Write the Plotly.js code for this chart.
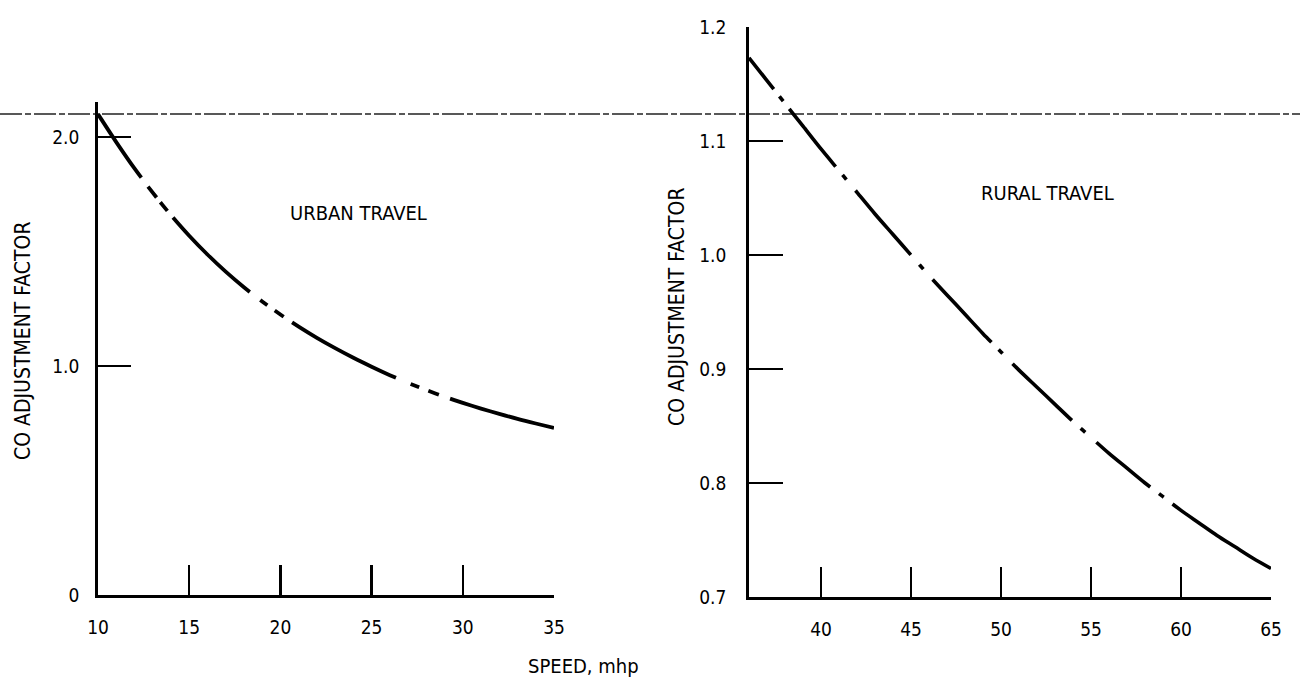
<!DOCTYPE html>
<html><head><meta charset="utf-8">
<script src="https://cdn.plot.ly/plotly-3.0.1.min.js"></script>
<style>html,body{margin:0;padding:0;background:#fff}#chart{width:1300px;height:683px}</style>
</head><body><div id="chart"></div>
<script>
// Urban travel: speed (mph) vs CO adjustment factor
const urbanSpeed  = [10,11,12,13,14,15,16,17,18,19,20,21,22,23,24,25,26,27,28,29,30,31,32,33,34,35];
const urbanFactor = [2.100,1.978,1.863,1.757,1.659,1.569,1.487,1.412,1.344,1.282,1.225,1.172,1.123,1.078,1.036,0.997,0.960,0.926,0.895,0.866,0.839,0.814,0.791,0.769,0.749,0.730];
// Rural travel
const ruralSpeed  = [36,37,38,39,40,41,42,43,44,45,46,47,48,49,50,51,52,53,54,55,56,57,58,59,60,61,62,63,64,65];
const ruralFactor = [1.173,1.153,1.133,1.113,1.093,1.074,1.055,1.036,1.018,1.000,0.982,0.965,0.948,0.931,0.915,0.899,0.884,0.869,0.854,0.840,0.826,0.813,0.800,0.788,0.776,0.765,0.754,0.744,0.734,0.725];
// Tick labels
const urbanXTicks = [10,15,20,25,30,35];
const urbanYTicks = [0,1.0,2.0];
const urbanYText  = ['0','1.0','2.0'];
const ruralXTicks = [40,45,50,55,60,65];
const ruralYTicks = [0.7,0.8,0.9,1.0,1.1,1.2];
const ruralYText  = ['0.7','0.8','0.9','1.0','1.1','1.2'];

const FONT = "'DejaVu Sans Condensed','Liberation Sans Narrow','Arial Narrow',sans-serif";
const W = 1300, H = 683;
const px = v => v / W, py = v => 1 - v / H;

// dash sequences (pixel lengths along the curve) reproducing the drawn long-dash / short-dash style
const urbanDash = '77px,11px,14px,6px,11px,9px,107px,13px,9px,9px,11px,10px,118px,16px,9px,10px,11px,12px,400px';
const ruralDash = '40px,9px,6px,10px,74px,11px,6px,14px,85px,13px,6px,14px,86px,10px,6px,14px,82px,12px,6px,15px,70px,11px,6px,11px,400px';

const traces = [
  {x: urbanSpeed, y: urbanFactor, xaxis:'x', yaxis:'y', mode:'lines', name:'Urban travel',
   line:{color:'#000', width:3.8, shape:'spline', smoothing:0.8, dash:urbanDash}, hoverinfo:'x+y'},
  {x: ruralSpeed, y: ruralFactor, xaxis:'x2', yaxis:'y2', mode:'lines', name:'Rural travel',
   line:{color:'#000', width:3.6, shape:'spline', smoothing:0.8, dash:ruralDash}, hoverinfo:'x+y'}
];

const axisCommon = {
  showgrid:false, zeroline:false, showline:true, linecolor:'#000', linewidth:2.8,
  ticks:'inside', tickcolor:'#000', tickwidth:2.4, mirror:false,
  tickfont:{family:FONT, size:19, color:'#000'}, tickmode:'array', fixedrange:true
};

const layout = {
  width:W, height:H, margin:{l:0,r:0,t:0,b:0}, showlegend:false,
  paper_bgcolor:'#fff', plot_bgcolor:'rgba(0,0,0,0)',
  xaxis: Object.assign({}, axisCommon, {domain:[px(98), px(554)], range:[10,35], anchor:'y',
          tickvals:urbanXTicks, ticklen:30, ticklabelstandoff:13}),
  yaxis: Object.assign({}, axisCommon, {domain:[py(595), py(102)], range:[0, 2.153], anchor:'x',
          tickvals:urbanYTicks, ticktext:urbanYText, ticklen:33, ticklabelstandoff:12}),
  xaxis2: Object.assign({}, axisCommon, {domain:[px(749), px(1271)], range:[36,65], anchor:'y2',
          tickvals:ruralXTicks, ticklen:30, ticklabelstandoff:13}),
  yaxis2: Object.assign({}, axisCommon, {domain:[py(597), py(27)], range:[0.7, 1.2], anchor:'x2',
          tickvals:ruralYTicks, ticktext:ruralYText, ticklen:34, ticklabelstandoff:16}),
  annotations: [
    {text:'URBAN TRAVEL', xref:'paper', yref:'paper', x:px(358), y:py(213), showarrow:false,
     font:{family:FONT, size:20, color:'#000'}, xanchor:'center', yanchor:'middle'},
    {text:'RURAL TRAVEL', xref:'paper', yref:'paper', x:px(1047), y:py(193), showarrow:false,
     font:{family:FONT, size:20, color:'#000'}, xanchor:'center', yanchor:'middle'},
    {text:'SPEED, mhp', xref:'paper', yref:'paper', x:px(583), y:py(666), showarrow:false,
     font:{family:FONT, size:20, color:'#000'}, xanchor:'center', yanchor:'middle'},
    {text:'CO ADJUSTMENT FACTOR', xref:'paper', yref:'paper', x:px(23), y:py(341), showarrow:false,
     textangle:-90, font:{family:FONT, size:21, color:'#000'}, xanchor:'center', yanchor:'middle'},
    {text:'CO ADJUSTMENT FACTOR', xref:'paper', yref:'paper', x:px(677), y:py(307), showarrow:false,
     textangle:-90, font:{family:FONT, size:21, color:'#000'}, xanchor:'center', yanchor:'middle'}
  ],
  shapes: [
    {type:'line', xref:'paper', yref:'paper', x0:0, x1:1, y0:py(114), y1:py(114), layer:'below',
     line:{color:'#222', width:1.3, dash:'22px,3px,6px,3px'}}
  ]
};

Plotly.newPlot('chart', traces, layout, {displayModeBar:false, staticPlot:true});
</script>
</body></html>
